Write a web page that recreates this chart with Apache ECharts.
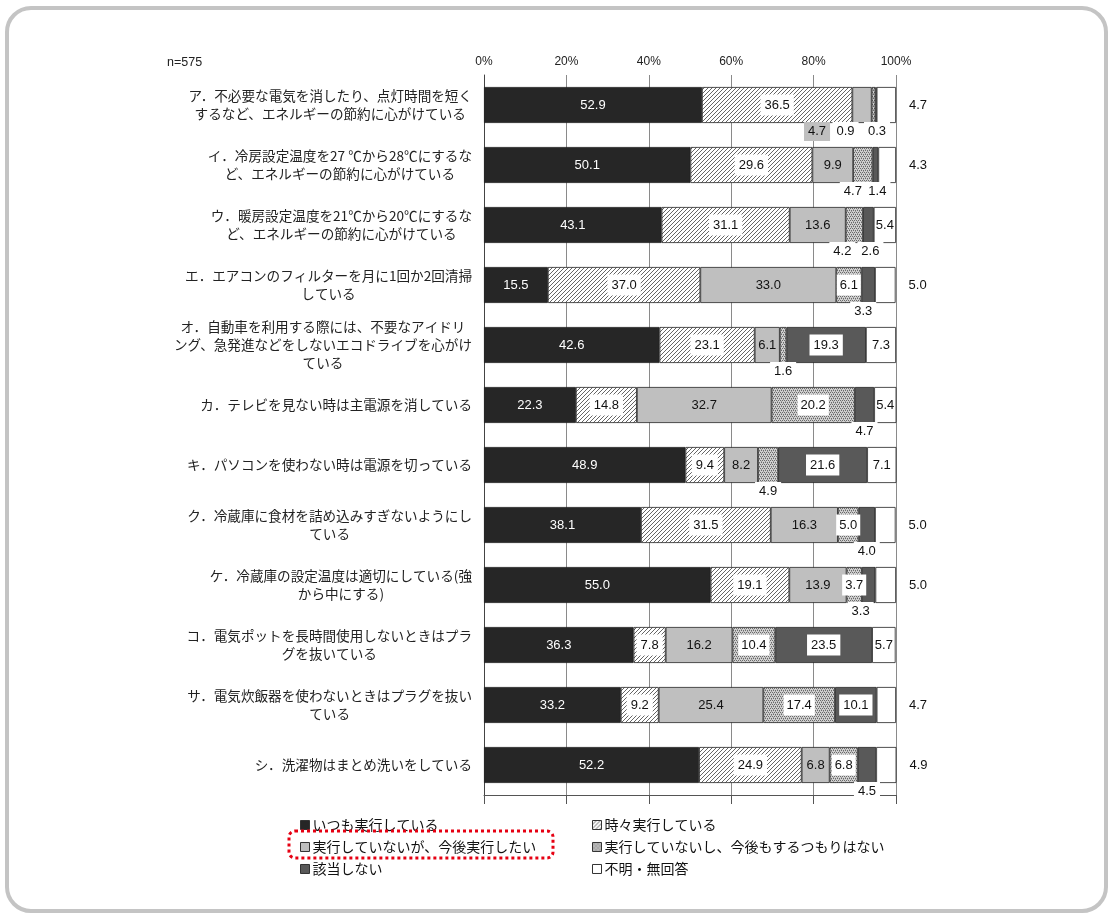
<!DOCTYPE html>
<html><head><meta charset="utf-8">
<script src="https://cdn.jsdelivr.net/npm/echarts@6/dist/echarts.min.js"></script>
<style>html,body{margin:0;padding:0;background:#fff}#c{width:1113px;height:918px}</style>
</head><body><div id="c"></div>
<script>
const categories = [
  'ア．不必要な電気を消したり、点灯時間を短く\nするなど、エネルギーの節約に心がけている',
  'イ．冷房設定温度を27 ℃から28℃にするな\nど、エネルギーの節約に心がけている',
  'ウ．暖房設定温度を21℃から20℃にするな\nど、エネルギーの節約に心がけている',
  'エ．エアコンのフィルターを月に1回か2回清掃\nしている',
  'オ．自動車を利用する際には、不要なアイドリ\nング、急発進などをしないエコドライブを心がけ\nている',
  'カ．テレビを見ない時は主電源を消している',
  'キ．パソコンを使わない時は電源を切っている',
  'ク．冷蔵庫に食材を詰め込みすぎないようにし\nている',
  'ケ．冷蔵庫の設定温度は適切にしている(強\nから中にする)',
  'コ．電気ポットを長時間使用しないときはプラ\nグを抜いている',
  'サ．電気炊飯器を使わないときはプラグを抜い\nている',
  'シ．洗濯物はまとめ洗いをしている'
];
const seriesNames = ['いつも実行している', '時々実行している', '実行していないが、今後実行したい',
  '実行していないし、今後もするつもりはない', '該当しない', '不明・無回答'];
const always        = [52.9, 50.1, 43.1, 15.5, 42.6, 22.3, 48.9, 38.1, 55.0, 36.3, 33.2, 52.2];
const sometimes     = [36.5, 29.6, 31.1, 37.0, 23.1, 14.8, 9.4, 31.5, 19.1, 7.8, 9.2, 24.9];
const wantTo        = [4.7, 9.9, 13.6, 33.0, 6.1, 32.7, 8.2, 16.3, 13.9, 16.2, 25.4, 6.8];
const noIntent      = [0.9, 4.7, 4.2, 6.1, 1.6, 20.2, 4.9, 5.0, 3.7, 10.4, 17.4, 6.8];
const notApplicable = [0.3, 1.4, 2.6, 3.3, 19.3, 4.7, 21.6, 4.0, 3.3, 23.5, 10.1, 4.5];
const unknown       = [4.7, 4.3, 5.4, 5.0, 7.3, 5.4, 7.1, 5.0, 5.0, 5.7, 4.7, 4.9];
const sampleNote = 'n=575';

// label placement (style only): "series-row" -> horizontal shift for labels drawn under the bar
const belowLabels = {
  '2-0': -45, '3-0': -28, '4-0': 1,
  '3-1': -10, '4-1': 2,
  '3-2': -12, '4-2': 2,
  '4-3': -5, '3-4': 0, '4-5': 0, '3-6': 0, '4-7': 0, '4-8': -8, '4-11': 0
};
const rightLabelRows = [0, 1, 3, 7, 8, 10, 11];

const jp = '"Noto Sans CJK JP", sans-serif';
const num = '"Liberation Sans", "Noto Sans CJK JP", sans-serif';

function makePattern(kind) {
  const c = document.createElement('canvas');
  const s = 4;
  c.width = s; c.height = s;
  const g = c.getContext('2d');
  if (kind === 'hatch') {
    g.fillStyle = '#ffffff'; g.fillRect(0, 0, s, s);
    g.strokeStyle = '#666'; g.lineWidth = 1;
    g.beginPath();
    g.moveTo(-1, s + 1); g.lineTo(s + 1, -1);
    g.moveTo(-1, 1); g.lineTo(1, -1);
    g.moveTo(s - 1, s + 1); g.lineTo(s + 1, s - 1);
    g.stroke();
  } else {
    g.fillStyle = '#d0d0d0'; g.fillRect(0, 0, s, s);
    g.fillStyle = '#6a6a6a';
    g.fillRect(0, 0, 1, 1); g.fillRect(2, 0, 1, 1);
    g.fillRect(1, 2, 1, 1); g.fillRect(3, 2, 1, 1);
    g.fillStyle = '#9a9a9a';
    g.fillRect(1, 1, 1, 1); g.fillRect(3, 3, 1, 1);
  }
  return { image: c, repeat: 'repeat' };
}

const colors = ['#262626', makePattern('hatch'), '#bfbfbf', makePattern('dots'), '#595959', '#ffffff'];
const values = [always, sometimes, wantTo, noIntent, notApplicable, unknown];

const baseLabels = [
  { color: '#ffffff' },
  { color: '#111', backgroundColor: '#fff', padding: [4, 4] },
  { color: '#111' },
  { color: '#111', backgroundColor: '#fff', padding: [4, 3] },
  { color: '#111', backgroundColor: '#fff', padding: [4, 4] },
  { color: '#111' }
];

function buildData(si) {
  return values[si].map((v, ri) => {
    const key = si + '-' + ri;
    const d = { value: v };
    if (key in belowLabels) {
      d.label = { position: 'bottom', distance: 0, offset: [belowLabels[key], -1],
        backgroundColor: si === 2 ? '#bfbfbf' : '#fff', color: '#111', padding: [3, 4] };
    } else if (si === 5 && rightLabelRows.includes(ri)) {
      d.label = { position: 'right', distance: 13 };
    }
    return d;
  });
}

const series = seriesNames.map((name, si) => ({
  name, type: 'bar', stack: 'total', barWidth: 36,
  xAxisIndex: 0,
  itemStyle: { color: colors[si], borderColor: '#222', borderWidth: 0.8 },
  label: Object.assign({ show: true, position: 'inside', fontSize: 13, fontFamily: num,
    formatter: p => Number(p.value).toFixed(1) }, baseLabels[si]),
  emphasis: { disabled: true },
  data: buildData(si)
}));

const legendCommon = {
  orient: 'vertical', itemWidth: 9, itemHeight: 9, itemGap: 8, selectedMode: false,
  icon: 'rect', top: 813,
  itemStyle: { borderColor: '#333', borderWidth: 1 },
  textStyle: { fontSize: 14, fontFamily: jp, color: '#111', padding: [0, 0, 0, -2] }
};

const chart = echarts.init(document.getElementById('c'));
chart.setOption({
  backgroundColor: '#fff',
  animation: false,
  grid: { left: 484, right: 217, top: 75, height: 720, containLabel: false },
  xAxis: [
    { type: 'value', position: 'top', min: 0, max: 100, interval: 20,
      axisLabel: { formatter: '{value}%', fontSize: 12, fontFamily: num, color: '#222', margin: 7 },
      axisLine: { show: false }, axisTick: { show: false },
      splitLine: { show: true, lineStyle: { color: '#8a8a8a', width: 1 } } },
    { type: 'value', position: 'bottom', min: 0, max: 100, interval: 20,
      axisLabel: { show: false },
      axisLine: { show: true, lineStyle: { color: '#555', width: 1 } },
      axisTick: { show: true, length: 9, lineStyle: { color: '#555' } },
      splitLine: { show: false } }
  ],
  yAxis: {
    type: 'category', inverse: true, data: categories,
    axisLine: { show: true, lineStyle: { color: '#444' } },
    axisTick: { show: false },
    axisLabel: {
      margin: 12, color: '#222', fontSize: 13.6, fontFamily: jp, lineHeight: 18,
      formatter: v => v.split('\n').map(l => '{c|' + l + '}').join('\n'),
      rich: { c: { align: 'center', fontSize: 13.6, fontFamily: jp, lineHeight: 18, color: '#222' } }
    }
  },
  legend: [
    Object.assign({ left: 295, data: [seriesNames[0], seriesNames[2], seriesNames[4]] }, legendCommon),
    Object.assign({ left: 587, data: [seriesNames[1], seriesNames[3], seriesNames[5]] }, legendCommon)
  ],
  graphic: [
    { type: 'rect', shape: { x: 7, y: 8, width: 1099, height: 903, r: 24 },
      style: { fill: 'none', stroke: '#c4c4c4', lineWidth: 4 }, z: -1, silent: true },
    { type: 'text', left: 167, top: 56,
      style: { text: sampleNote, fontSize: 12.5, fontFamily: num, fill: '#222' } },
    { type: 'rect', shape: { x: 289, y: 831, width: 264, height: 27, r: 6 },
      style: { fill: 'none', stroke: '#e60012', lineWidth: 3, lineDash: [3, 3] }, z: 100, silent: true }
  ],
  series
});
</script>
</body></html>
